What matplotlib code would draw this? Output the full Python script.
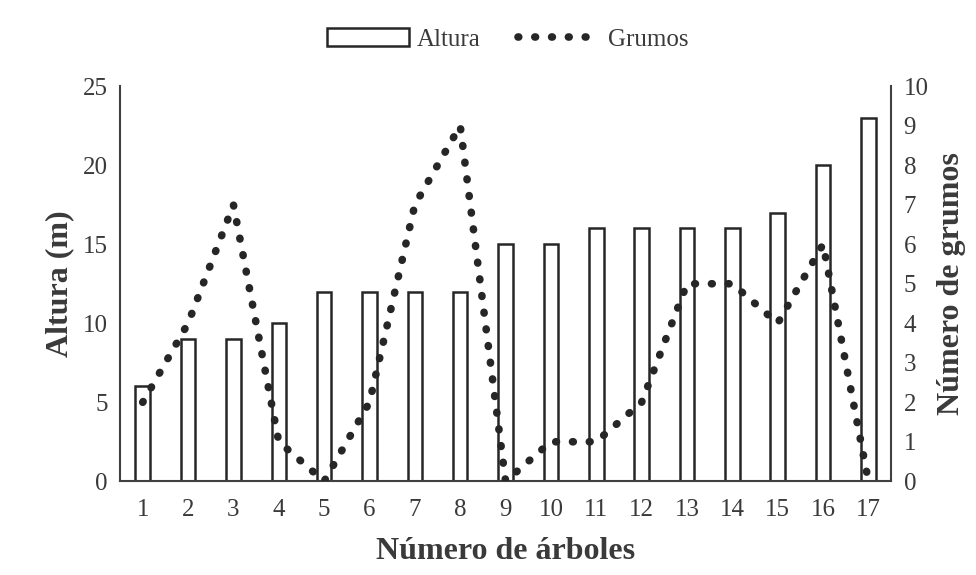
import numpy as np
import matplotlib.pyplot as plt

plt.rcParams['font.family'] = ['Liberation Serif', 'DejaVu Serif']

# Datos
arboles = [str(i) for i in range(1, 18)]
altura = [6, 9, 9, 10, 12, 12, 12, 12, 15, 15, 16, 16, 16, 16, 17, 20, 23]
grumos = [2, 4, 7, 1, 0, 2, 7, 9, 0, 1, 1, 2, 5, 5, 4, 6, 0]

gris = '#3a3a3a'
x = np.arange(1, len(arboles) + 1)

fig = plt.figure(figsize=(9.76, 5.75), dpi=100)
ax = fig.add_axes([0.123, 0.163, 0.790, 0.687])
ax2 = ax.twinx()

b = ax.bar(x, altura, width=0.32, facecolor='white', edgecolor='#262626',
           linewidth=1.8, label='Altura', zorder=2)
ln, = ax2.plot(x, grumos, color='#262626', linestyle=(0, (0.1, 2.1)),
               linewidth=5.5, dash_capstyle='round', label='Grumos', zorder=3)
ax2.set_zorder(ax.get_zorder() + 1)

ax.set_xlim(0.5, 17.5)
ax.set_ylim(0, 25)
ax2.set_ylim(0, 10)
ax.set_xticks(x)
ax.set_xticklabels(arboles)
ax.set_yticks(range(0, 26, 5))
ax2.set_yticks(range(0, 11))

for a in (ax, ax2):
    a.tick_params(length=0, labelsize=18, colors=gris, pad=9)
    a.spines['top'].set_visible(False)
    for s in a.spines.values():
        s.set_color('#404040')
        s.set_linewidth(1.5)
ax.tick_params(axis='x', pad=13)
ax.spines['right'].set_visible(False)
ax2.spines['left'].set_visible(False)
ax2.spines['bottom'].set_visible(False)

ax.set_xlabel('Número de árboles', fontsize=23, fontweight='bold', color=gris, labelpad=11)
ax.set_ylabel('Altura (m)', fontsize=23, fontweight='bold', color=gris, labelpad=6)
ax2.set_ylabel('Número de grumos', fontsize=23, fontweight='bold', color=gris, labelpad=6)

leg = fig.legend(handles=[b, ln], loc='upper center', bbox_to_anchor=(0.52, 0.99),
                 ncol=2, frameon=False, fontsize=18, handlelength=3.3,
                 columnspacing=1.5, handletextpad=0.3)
for t in leg.get_texts():
    t.set_color(gris)

fig.savefig('out.png', dpi=100)
